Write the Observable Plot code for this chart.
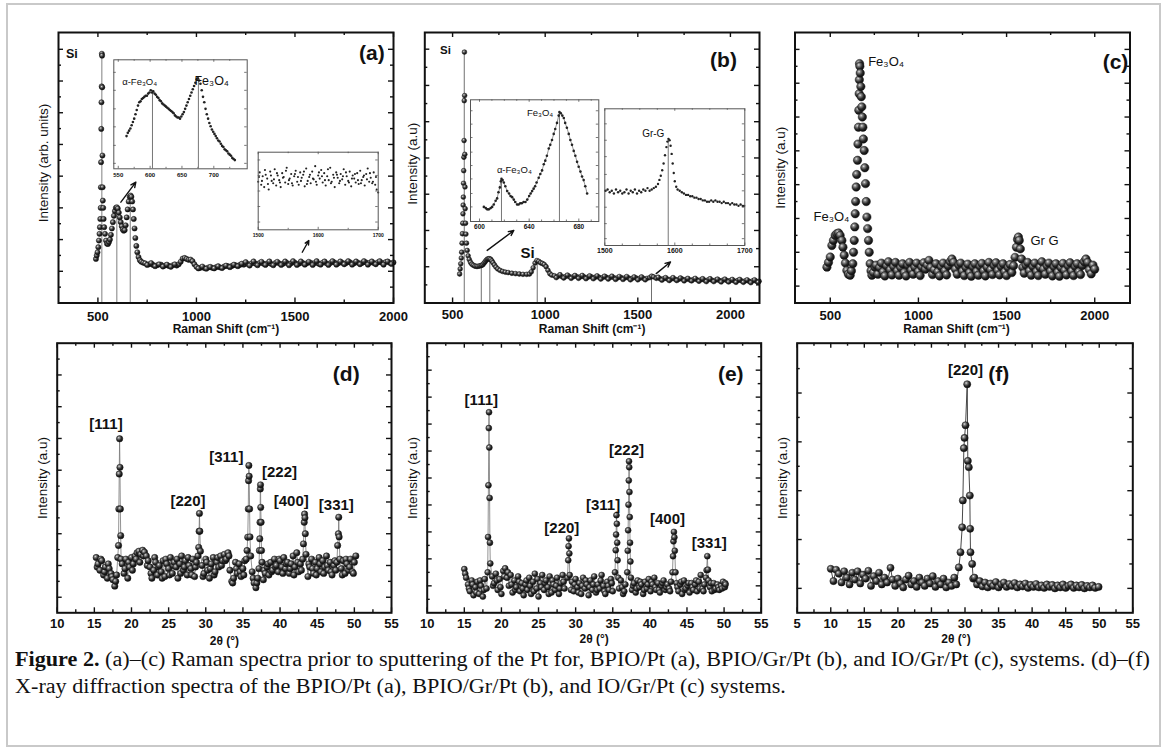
<!DOCTYPE html>
<html><head><meta charset="utf-8">
<script src="https://cdn.jsdelivr.net/npm/d3@7"></script>
<script src="https://cdn.jsdelivr.net/npm/@observablehq/plot@0.6"></script>
<style>
html,body{margin:0;padding:0;background:#fff;}
#fig{position:relative;width:1165px;height:749px;overflow:hidden;background:#fff;}
#border{position:absolute;left:6px;top:3px;width:1151px;height:740px;border:2px solid #c9c9c9;}
.cap{position:absolute;left:15px;white-space:nowrap;font-family:"Liberation Serif","DejaVu Serif",serif;font-size:20px;line-height:20px;color:#111;transform-origin:0 0;}
</style></head><body>
<div id="fig"><div id="border"></div>
<svg width="0" height="0" style="position:absolute"><defs>
<radialGradient id="sph" cx="0.36" cy="0.33" r="0.68">
<stop offset="0" stop-color="#e6e6e6"/><stop offset="0.22" stop-color="#8a8a8a"/><stop offset="0.62" stop-color="#2a2a2a"/><stop offset="1" stop-color="#0a0a0a"/>
</radialGradient></defs></svg>
<div class="cap" id="cap1" style="top:649px"><b>Figure 2.</b> (a)–(c) Raman spectra prior to sputtering of the Pt for, BPIO/Pt (a), BPIO/Gr/Pt (b), and IO/Gr/Pt (c), systems. (d)–(f)</div>
<div class="cap" id="cap2" style="top:676px">X-ray diffraction spectra of the BPIO/Pt (a), BPIO/Gr/Pt (b), and IO/Gr/Pt (c) systems.</div>
</div>
<script>
// ---------------- DATA ----------------
const ramanXMajor = [500, 1000, 1500, 2000];
const ramanXMinor = [750, 1250, 1750];
const xrdXMajorDE = [10, 15, 20, 25, 30, 35, 40, 45, 50, 55];
const xrdXMinorDE = [12.5, 17.5, 22.5, 27.5, 32.5, 37.5, 42.5, 47.5, 52.5];
const xrdXMajorF = [5, 10, 15, 20, 25, 30, 35, 40, 45, 50, 55];
const xrdXMinorF = [7.5, 12.5, 17.5, 22.5, 27.5, 32.5, 37.5, 42.5, 47.5, 52.5];

// (a) BPIO/Pt Raman
const ramanA = [
[490,1.39],[494,1.50],[498,1.60],[502,1.76],[505,1.97],[508,2.18],[510,2.39],[512,2.65],[514,3.00],[515,3.65],[516,4.44],[517,5.49],[518,6.33],[519,6.83],[520,7.86],[521,7.80],[522,6.80],[523,4.65],[524,3.65],[525,3.23],[527,3.00],[529,2.65],[532,2.39],[536,2.18],[541,1.97],[546,1.87],[551,1.86],[556,1.92],[561,2.00],[566,2.15],[571,2.35],[576,2.55],[581,2.75],[586,2.90],[591,3.00],[596,3.02],[601,2.98],[606,2.85],[611,2.70],[616,2.55],[621,2.42],[626,2.32],[631,2.28],[636,2.30],[641,2.45],[646,2.70],[651,2.95],[656,3.20],[661,3.35],[666,3.39],[670,3.35],[674,3.20],[678,2.95],[682,2.65],[686,2.35],[690,2.05],[695,1.80],[700,1.60],[706,1.45],[713,1.35],[720,1.30],[730,1.27],
[740,1.25],[760,1.22],[780,1.20],[800,1.19],[820,1.21],[840,1.18],[860,1.17],[880,1.19],[900,1.18],[910,1.22],[920,1.30],[930,1.40],[940,1.42],[950,1.39],[960,1.36],[970,1.37],[980,1.32],[990,1.22],[1000,1.14],[1020,1.11],[1040,1.10],[1060,1.12],[1080,1.11],[1100,1.13],[1120,1.12],[1140,1.15],[1160,1.16],[1180,1.17],[1200,1.19],[1220,1.20],[1240,1.21],[1260,1.23],[1280,1.25],[1300,1.24],[1320,1.26],[1340,1.24],[1360,1.25],[1380,1.23],[1400,1.26],[1420,1.25],[1440,1.24],[1460,1.26],[1480,1.25],[1500,1.27],[1520,1.24],[1540,1.26],[1560,1.25],[1580,1.27],[1600,1.26],[1620,1.24],[1640,1.27],[1660,1.25],[1680,1.26],[1700,1.28],[1720,1.25],[1740,1.27],[1760,1.26],[1780,1.28],[1800,1.25],[1820,1.27],[1840,1.26],[1860,1.28],[1880,1.27],[1900,1.26],[1920,1.28],[1940,1.27],[1960,1.29],[1980,1.27],[2000,1.28],
[750,1.20],[770,1.26],[790,1.16],[810,1.22],[830,1.15],[850,1.21],[870,1.14],[890,1.22],[1010,1.09],[1030,1.15],[1050,1.08],[1070,1.14],[1090,1.09],[1110,1.16],[1130,1.10],[1150,1.18],[1170,1.13],[1190,1.21],[1210,1.16],[1230,1.24],
[1250,1.29],[1270,1.18],[1290,1.31],[1310,1.19],[1330,1.30],[1350,1.20],[1370,1.31],[1390,1.19],[1410,1.30],[1430,1.20],[1450,1.31],[1470,1.19],[1490,1.32],[1510,1.20],[1530,1.31],[1550,1.21],[1570,1.30],[1590,1.20],[1610,1.32],[1630,1.21],[1650,1.31],[1670,1.20],[1690,1.32],[1710,1.21],[1730,1.31],[1750,1.22],[1770,1.32],[1790,1.21],[1810,1.31],[1830,1.22],[1850,1.32],[1870,1.21],[1890,1.31],[1910,1.22],[1930,1.32],[1950,1.21],[1970,1.31],[1990,1.23]
];
const ramanA_peakLines = [[520,7.86],[596,3.02],[664,3.39]];
const ramanA_arrows = [[616.5,3.18,692.5,3.81],[1537,1.60,1570.5,1.97]];
const ramanA_si = [[368,7.86,"Si"]];
const ramanA_tag = [[1890,7.86,"(a)"]];
const yA_major = [1,2,3,4,5,6,7,8];
const yA_minor = [0.5,1.5,2.5,3.5,4.5,5.5,6.5,7.5];

const insetA1 = [[563,0.30],[565,0.33],[567,0.35],[569,0.37],[571,0.40],[573,0.43],[575,0.46],[577,0.50],[579,0.54],[581,0.58],[583,0.61],[585,0.62],[587,0.64],[589,0.65],[591,0.66],[593,0.67],[595,0.67],[597,0.69],[599,0.70],[601,0.72],[603,0.70],[605,0.71],[607,0.69],[609,0.68],[611,0.66],[613,0.65],[615,0.63],[617,0.62],[619,0.60],[621,0.59],[623,0.58],[625,0.57],[627,0.56],[629,0.55],[631,0.54],[633,0.53],[635,0.52],[637,0.51],[639,0.49],[641,0.48],[643,0.47],[645,0.47],[647,0.46],[649,0.48],[651,0.50],[653,0.52],[655,0.55],[657,0.58],[659,0.61],[661,0.64],[663,0.67],[665,0.70],[667,0.73],[669,0.76],[671,0.79],[673,0.82],[675,0.83],[677,0.81],[679,0.78],[681,0.72],[683,0.66],[685,0.61],[687,0.55],[689,0.50],[691,0.46],[693,0.42],[695,0.39],[697,0.36],[699,0.34],[701,0.32],[703,0.30],[705,0.28],[707,0.26],[709,0.25],[711,0.23],[713,0.21],[715,0.20],[717,0.18],[719,0.17],[721,0.16],[723,0.14],[725,0.13],[727,0.12],[729,0.10],[731,0.09],[733,0.08]];
const insetA1_lines = [[603.7,0.72],[675.8,0.83]];
const insetA1_labels = [[556.2,0.795,"α-Fe₃O₄",9.5],[669.6,0.81,"Fe₃O₄",12.5]];
const insetA1_xLabels = [550,600,650,700];
const insetA1_xMinor = [575,625,675,725];
const insetA1_yTicks = [0.05,0.215,0.385,0.55,0.72,0.885];

const insetA2 = [[1500,0.62],[1502.5,0.74],[1505,0.58],[1507.5,0.69],[1510,0.55],[1512.5,0.71],[1515,0.66],[1517.5,0.52],[1520,0.75],[1522.5,0.63],[1525,0.60],[1527.5,0.78],[1530,0.57],[1532.5,0.70],[1535,0.64],[1537.5,0.55],[1540,0.73],[1542.5,0.68],[1545,0.61],[1547.5,0.80],[1550,0.59],[1552.5,0.66],[1555,0.72],[1557.5,0.57],[1560,0.69],[1562.5,0.76],[1565,0.62],[1567.5,0.58],[1570,0.74],[1572.5,0.67],[1575,0.71],[1577.5,0.56],[1580,0.79],[1582.5,0.63],[1585,0.68],[1587.5,0.60],[1590,0.75],[1592.5,0.65],[1595,0.82],[1597.5,0.58],[1600,0.70],[1602.5,0.66],[1605,0.77],[1607.5,0.61],[1610,0.73],[1612.5,0.57],[1615,0.69],[1617.5,0.64],[1620,0.80],[1622.5,0.62],[1625,0.71],[1627.5,0.55],[1630,0.74],[1632.5,0.67],[1635,0.60],[1637.5,0.72],[1640,0.65],[1642.5,0.78],[1645,0.58],[1647.5,0.69],[1650,0.63],[1652.5,0.75],[1655,0.56],[1657.5,0.70],[1660,0.66],[1662.5,0.61],[1665,0.73],[1667.5,0.59],[1670,0.76],[1672.5,0.64],[1675,0.68],[1677.5,0.57],[1680,0.72],[1682.5,0.79],[1685,0.62],[1687.5,0.67],[1690,0.60],[1692.5,0.74],[1695,0.58],[1697.5,0.52],[1700,0.48],
[1501.25,0.68],[1506.25,0.63],[1511.25,0.77],[1516.25,0.59],[1521.25,0.70],[1526.25,0.65],[1531.25,0.73],[1536.25,0.61],[1541.25,0.67],[1546.25,0.76],[1551.25,0.64],[1556.25,0.60],[1561.25,0.72],[1566.25,0.68],[1571.25,0.63],[1576.25,0.75],[1581.25,0.59],[1586.25,0.71],[1591.25,0.66],[1596.25,0.62],[1601.25,0.74],[1606.25,0.69],[1611.25,0.64],[1616.25,0.78],[1621.25,0.60],[1626.25,0.67],[1631.25,0.71],[1636.25,0.63],[1641.25,0.69],[1646.25,0.74],[1651.25,0.61],[1656.25,0.66],[1661.25,0.72],[1666.25,0.64],[1671.25,0.60],[1676.25,0.70],[1681.25,0.65],[1686.25,0.73],[1691.25,0.62],[1696.25,0.68]];
const insetA2_xLabels = [1500,1600,1700];
const insetA2_xMinor = [1550,1650];
const insetA2_yTicks = [0.1,0.3,0.5,0.7,0.9];

// (b) BPIO/Gr/Pt Raman
const ramanB = [
[538,0.80],[541,0.94],[544,1.08],[547,1.24],[549,1.40],[551,1.65],[553,1.91],[555,2.20],[556,2.46],[557,2.70],[558,2.92],[559,3.30],[560,3.65],[561,4.02],[562,4.48],[563,5.58],[564,6.92],[565,5.72],[566,4.10],[567,3.20],[568,2.60],[570,2.20],[572,1.90],[575,1.65],[579,1.45],[584,1.30],[590,1.20],[597,1.12],[604,1.07],[612,1.04],[620,1.02],[628,1.01],[636,1.01],[644,1.02],[652,1.03],[658,1.04],[664,1.06],[670,1.10],[676,1.14],[682,1.18],[688,1.21],[694,1.22],[700,1.22],[706,1.20],[712,1.16],[718,1.11],[726,1.05],[734,0.99],[744,0.94],[756,0.90],[770,0.87],[785,0.85],[800,0.84],[820,0.82],[840,0.81],[860,0.80],[880,0.79],[900,0.79],[915,0.80],[925,0.86],[935,0.97],[945,1.10],[955,1.17],[965,1.15],[975,1.11],[985,1.09],[995,1.06],[1005,1.00],[1015,0.90],[1025,0.81],[1035,0.77],[1050,0.75],
[1070,0.74],[1090,0.73],[1110,0.73],[1130,0.73],[1150,0.72],[1170,0.73],[1190,0.72],[1210,0.72],[1230,0.71],[1250,0.72],[1270,0.71],[1290,0.71],[1310,0.70],[1330,0.71],[1350,0.70],[1370,0.70],[1390,0.69],[1410,0.70],[1430,0.69],[1450,0.69],[1470,0.68],[1490,0.69],[1510,0.68],[1530,0.68],[1550,0.68],[1565,0.70],[1575,0.74],[1585,0.72],[1600,0.68],[1620,0.67],[1640,0.67],[1660,0.66],[1680,0.66],[1700,0.66],[1720,0.65],[1740,0.66],[1760,0.65],[1780,0.64],[1800,0.65],[1820,0.64],[1840,0.64],[1860,0.63],[1880,0.64],[1900,0.63],[1920,0.63],[1940,0.62],[1960,0.63],[1980,0.62],[2000,0.62],[2020,0.61],[2040,0.62],[2060,0.61],[2080,0.61],[2100,0.60],[2120,0.61],[2140,0.60],[2155,0.60],
[1060,0.70],[1080,0.78],[1100,0.69],[1120,0.77],[1140,0.68],[1160,0.76],[1180,0.68],[1200,0.76],[1220,0.67],[1240,0.75],[1260,0.67],[1280,0.75],[1300,0.66],[1320,0.74],[1340,0.66],[1360,0.74],[1380,0.65],[1400,0.73],[1420,0.65],[1440,0.73],[1460,0.64],[1480,0.72],[1500,0.64],[1520,0.72],[1540,0.64],[1610,0.71],[1630,0.63],[1650,0.70],[1670,0.62],[1690,0.70],[1710,0.62],[1730,0.69],[1750,0.61],[1770,0.68],[1790,0.61],[1810,0.68],[1830,0.60],[1850,0.67],[1870,0.59],[1890,0.67],[1910,0.59],[1930,0.66],[1950,0.58],[1970,0.66],[1990,0.58],[2010,0.65],[2030,0.57],[2050,0.65],[2070,0.57],[2090,0.64],[2110,0.56],[2130,0.64],[2150,0.57]
];
const ramanB_peakLines = [[563,6.92],[655,1.03],[701,1.22],[957,1.17],[1574,0.74]];
const ramanB_arrows = [[686.9,1.45,830.5,2.0],[1599.3,0.81,1676.5,1.13]];
const ramanB_siTop = [[461.8,6.96,"Si"]];
const ramanB_si2 = [[904.5,1.36,"Si"]];
const ramanB_tag = [[1962.7,6.69,"(b)"]];
const yB_major = [1,2,3,4,5,6,7];
const yB_minor = [0.5,1.5,2.5,3.5,4.5,5.5,6.5];

const insetB1 = [[603.5,0.12],[605,0.11],[606.2,0.10],[607.5,0.10],[609,0.11],[610.2,0.12],[611.5,0.14],[613,0.17],[614.2,0.19],[615.3,0.24],[616.4,0.28],[617.2,0.33],[617.7,0.35],[618.6,0.34],[619.6,0.32],[620.8,0.29],[622.3,0.25],[623.8,0.23],[625,0.21],[626.3,0.20],[627.6,0.18],[628.8,0.16],[630.3,0.14],[631.5,0.14],[632.8,0.15],[634,0.15],[635.5,0.16],[637,0.16],[638.5,0.18],[640,0.21],[641.2,0.23],[642.4,0.25],[643.6,0.27],[644.8,0.29],[646,0.32],[647.7,0.36],[649,0.39],[650.4,0.42],[651.8,0.47],[653,0.50],[654.3,0.54],[655.8,0.60],[657,0.63],[658.4,0.67],[659.8,0.72],[661,0.76],[662.4,0.81],[663.8,0.87],[664.4,0.90],[665.5,0.89],[666.7,0.87],[667.9,0.85],[669,0.81],[670.4,0.77],[671.9,0.72],[673.2,0.67],[674.5,0.63],[675.9,0.58],[677.2,0.54],[678.6,0.49],[679.9,0.45],[681.3,0.41],[682.6,0.37],[683.9,0.34],[685.2,0.29],[686.7,0.23]];
const insetB1_lines = [[617.7,0.35],[664.4,0.90]];
const insetB1_labels = [[614.0,0.42,"α-Fe₃O₄"],[638.2,0.89,"Fe₃O₄"]];
const insetB1_xLabels = [600,640,680];
const insetB1_xMinor = [610,620,630,650,660,670,690];
const insetB1_yTicks = [0.12,0.23,0.35,0.46,0.57,0.69,0.80,0.91];

const insetB2 = [[1501,0.40],[1504,0.41],[1507,0.39],[1510,0.40],[1513,0.38],[1516,0.41],[1519,0.39],[1522,0.40],[1525,0.38],[1528,0.39],[1531,0.41],[1534,0.38],[1537,0.40],[1540,0.39],[1543,0.41],[1546,0.38],[1549,0.40],[1552,0.39],[1555,0.41],[1558,0.40],[1561,0.42],[1564,0.40],[1567,0.41],[1570,0.42],[1573,0.43],[1576,0.45],[1578,0.48],[1580,0.51],[1582,0.55],[1584,0.60],[1586,0.66],[1588,0.72],[1589.5,0.76],[1591,0.78],[1592.5,0.77],[1594,0.73],[1595.5,0.67],[1597,0.60],[1598.5,0.53],[1600,0.47],[1602,0.43],[1604,0.41],[1607,0.40],[1610,0.39],[1613,0.38],[1616,0.37],[1619,0.37],[1622,0.36],[1625,0.36],[1628,0.35],[1631,0.35],[1634,0.34],[1637,0.34],[1640,0.33],[1643,0.33],[1646,0.32],[1649,0.32],[1652,0.33],[1655,0.32],[1658,0.33],[1661,0.32],[1664,0.32],[1667,0.31],[1670,0.32],[1673,0.31],[1676,0.31],[1679,0.30],[1682,0.31],[1685,0.30],[1688,0.30],[1691,0.29],[1694,0.30],[1697,0.29],[1699,0.29]];
const insetB2_lines = [[1590.6,0.78]];
const insetB2_labels = [[1553.4,0.817,"Gr-G"]];
const insetB2_xLabels = [1500,1600,1700];
const insetB2_xMinor = [1525,1550,1575,1625,1650,1675];
const insetB2_yTicks = [0.05,0.16,0.28,0.40,0.52,0.65,0.77,0.89];

// (c) IO/Gr/Pt Raman
const ramanC = [
[481,1.56],[490,1.70],[500,1.86],[509,2.20],[518,2.35],[528,2.50],[537,2.55],[547,2.57],[556,2.50],[566,2.35],[572,2.15],[579,1.91],[586,1.68],[594,1.46],[603,1.35],[613,1.32],[620,1.45],[628,1.66],[632,2.00],[636,2.35],[639,2.75],[641.5,3.14],[644,3.50],[647,3.93],[650,4.30],[654.6,4.72],[657,5.20],[660,5.70],[662,6.20],[664,6.69],[665,7.10],[666,7.58],[668,7.50],[670,7.30],[673.5,6.90],[676,6.60],[679,6.30],[682,6.00],[685,5.70],[688,5.35],[692.4,5.01],[696,4.50],[700,4.03],[704,3.50],[707.7,3.04],[712,2.70],[717,2.35],[721,2.00],[726,1.66],[731,1.45],[736,1.32],[745,1.40],[754.7,1.56],
[760,1.62],[770,1.35],[780,1.55],[790,1.68],[800,1.42],[810,1.30],[820,1.60],[830,1.72],[840,1.48],[850,1.33],[860,1.58],[870,1.70],[880,1.45],[890,1.32],[900,1.55],[910,1.66],[920,1.40],[930,1.30],[940,1.62],[950,1.70],[960,1.47],[970,1.35],[980,1.56],[990,1.68],[1000,1.43],[1010,1.31],[1020,1.57],[1030,1.69],[1040,1.50],[1050,1.62],[1060,1.76],[1070,1.55],[1080,1.34],[1090,1.48],[1100,1.66],[1110,1.42],[1120,1.30],[1130,1.58],[1140,1.68],[1150,1.45],[1160,1.33],[1170,1.60],[1180,1.72],[1190,1.80],[1200,1.70],[1210,1.50],[1220,1.35],[1230,1.62],[1240,1.68],[1250,1.44],[1260,1.31],[1270,1.55],[1280,1.65],[1290,1.40],[1300,1.29],[1310,1.57],[1320,1.66],[1330,1.43],[1340,1.32],[1350,1.59],[1360,1.67],[1370,1.45],[1380,1.30],[1390,1.56],[1400,1.70],[1410,1.48],[1420,1.34],[1430,1.61],[1440,1.69],[1450,1.46],[1460,1.33],[1470,1.58],[1480,1.66],[1490,1.42],[1500,1.31],[1510,1.55],[1520,1.64],[1530,1.40],[1540,1.60],[1548,1.85],[1556,2.15],[1562,2.38],[1567,2.45],[1572,2.35],[1578,2.10],[1585,1.80],[1592,1.55],[1600,1.38],[1610,1.62],[1620,1.70],[1630,1.45],[1640,1.32],[1650,1.58],[1660,1.68],[1670,1.43],[1680,1.31],[1690,1.56],[1700,1.72],[1710,1.50],[1720,1.35],[1730,1.60],[1740,1.68],[1750,1.44],[1760,1.30],[1770,1.57],[1780,1.66],[1790,1.41],[1800,1.29],[1810,1.55],[1820,1.67],[1830,1.46],[1840,1.33],[1850,1.60],[1860,1.69],[1870,1.44],[1880,1.31],[1890,1.58],[1900,1.66],[1910,1.42],[1920,1.34],[1930,1.61],[1940,1.72],[1950,1.80],[1960,1.70],[1970,1.48],[1980,1.36],[1990,1.62],[2000,1.50]
];
const ramanC_labels = [[715,7.62,"Fe₃O₄"],[405,3.04,"Fe₃O₄"],[1635,2.35,"Gr G"]];
const ramanC_tag = [[2117.7,7.62,"(c)"]];
const yC_major = [1,2,3,4,5,6,7,8];
const yC_minor = [1.5,2.5,3.5,4.5,5.5,6.5,7.5];

// (d) BPIO/Pt XRD
const xrdD_base = [[15.25,2.25],[15.5,2.05],[15.75,1.85],[16,2.15],[16.25,1.7],[16.5,1.95],[16.75,1.6],[17,1.9],[17.25,1.75],[17.5,1.55],[17.75,1.35],[18,1.7],[18.75,2.05],[19,1.75],[19.25,2.2],[19.5,1.6],[19.75,1.95],[20,2.25],[20.25,2.05],[20.5,2.3],[20.75,2.4],[21,2.45],[21.25,2.35],[21.5,2.48],[21.75,2.42],[22,2.3],[22.25,2.15],[22.5,1.95],[22.75,1.6],[23,1.85],[23.25,2.1],[23.5,1.7],[23.75,2],[24,1.8],[24.25,2.15],[24.5,1.65],[24.75,2.05],[25,1.9],[25.25,2.25],[25.5,1.75],[25.75,2.1],[26,1.95],[26.25,1.6],[26.5,2.05],[26.75,2.3],[27,1.85],[27.25,2.15],[27.5,1.7],[27.75,2],[28,1.9],[28.25,2.2],[28.5,1.65],[28.75,2.1],[29.5,2],[29.75,1.75],[30,2.2],[30.25,1.85],[30.5,1.6],[30.75,2.05],[31,2.25],[31.25,1.8],[31.5,2.1],[31.75,1.95],[32,2.3],[32.25,2.15],[32.5,2.35],[32.75,2.2],[33,2.4],[33.25,1.85],[33.5,1.5],[33.75,1.6],[34,2.1],[34.25,1.75],[34.5,2.05],[34.75,1.65],[35,1.9],[35.25,2.15],[36.25,1.8],[36.5,1.45],[36.75,1.3],[37,1.6],[37.75,1.55],[38,1.75],[38.25,1.95],[38.5,1.7],[38.75,2.1],[39,1.85],[39.25,2.2],[39.5,2],[39.75,1.8],[40,2.15],[40.25,1.95],[40.5,2.25],[40.75,1.9],[41,2.1],[41.25,1.75],[41.5,2.05],[41.75,2.3],[42,1.95],[42.25,2.4],[42.5,1.8],[42.75,2.05],[43.75,1.65],[44,1.95],[44.25,2.2],[44.5,1.75],[44.75,2.1],[45,1.9],[45.25,2.25],[45.5,1.8],[45.75,2.15],[46,1.95],[46.25,2.3],[46.5,1.85],[46.75,2.1],[47,1.7],[47.25,2],[47.5,1.85],[48.25,1.9],[48.5,2.15],[48.75,1.75],[49,2.05],[49.25,1.85],[49.5,2.2],[49.75,1.8],[50,2.1],[50.2,2.3],
[15.375,1.95],[15.875,2.2],[16.375,1.8],[16.875,2.05],[17.375,1.65],[17.875,1.5],[19.125,1.9],[19.625,2.1],[20.125,1.85],[20.625,2.2],[21.125,2.1],[21.625,2.3],[22.125,2.0],[22.625,1.75],[23.125,2.25],[23.625,1.95],[24.125,1.6],[24.625,2.2],[25.125,1.7],[25.625,2.0],[26.125,2.2],[26.625,1.75],[27.125,1.95],[27.625,2.25],[28.125,1.7],[28.625,1.95],[29.625,1.65],[30.125,2.1],[30.625,1.9],[31.125,1.7],[31.625,2.25],[32.125,2.0],[32.625,2.15],[33.125,2.3],[33.625,1.45],[34.125,1.9],[34.625,1.8],[35.125,1.7],[36.375,1.6],[36.875,1.45],[37.875,1.85],[38.375,2.05],[38.875,1.8],[39.375,1.95],[39.875,2.2],[40.375,1.75],[40.875,2.05],[41.375,1.9],[41.875,1.7],[42.375,2.1],[42.875,1.85],[43.875,2.05],[44.375,1.9],[44.875,1.7],[45.375,2.05],[45.875,1.75],[46.375,2.0],[46.875,1.8],[47.375,2.15],[48.375,1.7],[48.875,2.2],[49.375,1.95],[49.875,1.75]];
const xrdD_peaks = [[18.15,2.25],[18.25,2.63],[18.3,3.78],[18.35,4.88],[18.4,5.99],[18.45,5.09],[18.5,3.78],[18.55,2.94],[18.6,2.2],
[28.95,2.3],[29.05,2.57],[29.1,3.08],[29.15,3.64],[29.2,3.08],[29.28,2.45],
[35.45,2.2],[35.55,2.47],[35.65,2.89],[35.72,3.78],[35.76,4.67],[35.8,5.15],[35.84,4.81],[35.9,3.78],[35.95,2.9],[36.05,2.3],
[37.15,1.9],[37.22,2.47],[37.27,2.84],[37.3,3.36],[37.34,4.41],[37.37,4.54],[37.4,3.83],[37.45,3.36],[37.5,2.47],[37.58,2.1],
[43.05,2.2],[43.15,2.68],[43.25,3.36],[43.3,3.62],[43.35,3.5],[43.4,3.0],[43.5,2.35],
[47.65,2.1],[47.75,2.63],[47.85,3.0],[47.9,3.52],[47.95,2.9],[48.05,2.2]];
const xrdD_labels = [[16.57,6.46,"[111]"],[27.61,4.04,"[220]"],[32.76,5.41,"[311]"],[39.92,4.93,"[222]"],[41.51,4.04,"[400]"],[47.57,3.89,"[331]"]];
const xrdD_tag = [[48.91,8.03,"(d)"]];
const yD_major = [1,2,3,4,5,6,7,8];
const yD_minor = [1.5,2.5,3.5,4.5,5.5,6.5,7.5,8.5];

// (e) BPIO/Gr/Pt XRD
const xrdE_base = [[15,1.62],[15.25,1.3],[15.5,1.05],[15.75,0.8],[16,1.2],[16.25,0.65],[16.5,0.95],[16.75,1.15],[17,0.7],[17.25,1],[17.5,0.6],[17.75,1.25],[18,0.9],[18.75,1.35],[19,1.1],[19.25,1.45],[19.5,0.85],[19.75,1.25],[20,0.7],[20.25,1.55],[20.5,1.65],[20.75,1.3],[21,1],[21.25,1.4],[21.5,0.75],[21.75,1.2],[22,0.95],[22.25,1.35],[22.5,0.8],[22.75,1.1],[23,0.65],[23.25,1.05],[23.5,0.85],[23.75,1.3],[24,0.7],[24.25,1.15],[24.5,1.45],[24.75,0.9],[25,0.6],[25.25,1.1],[25.5,1.4],[25.75,0.85],[26,1.2],[26.25,0.95],[26.5,1.35],[26.75,0.75],[27,1.05],[27.25,0.85],[27.5,1.3],[27.75,0.7],[28,1.1],[28.25,1.4],[28.5,0.9],[29.5,1.15],[29.75,0.8],[30,1.25],[30.25,0.95],[30.5,1.1],[30.75,0.7],[31,1.3],[31.25,0.9],[31.5,1.05],[31.75,0.65],[32,1.2],[32.25,0.85],[32.5,1.35],[32.75,0.75],[33,1.05],[33.25,0.9],[33.5,1.4],[33.75,1],[34,0.7],[34.25,1.15],[34.5,0.85],[34.75,1.25],[35,0.8],[35.85,0.9],[36.1,1.2],[36.4,0.7],[36.7,1.05],[37.6,0.85],[37.85,1.1],[38.1,0.75],[38.35,1.2],[38.6,0.95],[38.85,1.05],[39.1,0.7],[39.35,1.15],[39.6,0.9],[39.85,1.25],[40.1,0.8],[40.35,1.05],[40.6,1.3],[40.85,0.85],[41.1,1.1],[41.35,0.75],[41.6,1],[41.85,1.2],[42.1,0.85],[42.35,1.05],[42.6,0.9],[42.85,1.15],[43.6,1.1],[43.85,0.8],[44.1,1.05],[44.35,0.7],[44.6,1.2],[44.85,0.9],[45.1,1],[45.35,0.75],[45.6,1.1],[45.85,0.85],[46.1,1.05],[46.35,0.8],[46.6,1.15],[46.85,1.4],[47.1,0.9],[47.35,1.05],[48.1,0.95],[48.35,0.8],[48.6,1.1],[48.85,0.9],[49.1,1.05],[49.35,0.85],[49.6,1],[49.85,1.15],[50.1,0.95],[50.2,1.05],
[15.125,1.45],[15.625,0.9],[16.125,1.05],[16.625,0.75],[17.125,1.2],[17.625,0.85],[18.875,1.0],[19.375,1.2],[19.875,0.95],[20.375,1.35],[20.875,1.5],[21.375,1.05],[21.875,0.85],[22.375,1.15],[22.875,0.9],[23.375,1.2],[23.875,1.0],[24.375,0.8],[24.875,1.25],[25.375,0.95],[25.875,1.1],[26.375,0.7],[26.875,1.2],[27.375,1.0],[27.875,0.9],[28.375,1.15],[29.375,0.85],[29.875,1.05],[30.375,0.75],[30.875,1.0],[31.375,1.2],[31.875,0.95],[32.375,1.05],[32.875,0.85],[33.375,1.2],[33.875,0.8],[34.375,1.0],[34.875,1.1],[36.25,0.95],[36.55,0.8],[37.725,1.0],[38.225,0.9],[38.725,1.15],[39.225,0.85],[39.725,1.05],[40.225,1.15],[40.725,0.95],[41.225,0.85],[41.725,1.1],[42.225,0.95],[42.725,0.8],[43.725,0.95],[44.225,1.15],[44.725,0.85],[45.225,1.1],[45.725,0.95],[46.225,1.2],[46.725,0.9],[47.225,0.8],[48.225,1.1],[48.725,0.85],[49.225,0.95],[49.725,0.9],[50.15,1.1]];
const xrdE_peaks = [[18.15,1.5],[18.2,2.81],[18.25,4.73],[18.3,6.85],[18.33,7.44],[18.37,6.13],[18.41,4.26],[18.45,2.6],[18.5,1.83],
[28.9,1.3],[29,1.95],[29.05,2.47],[29.1,2.76],[29.15,2.2],[29.2,1.4],
[35.3,1.5],[35.4,2.32],[35.45,2.9],[35.5,3.62],[35.55,3.3],[35.6,2.6],[35.65,1.95],[35.75,1.3],
[36.95,1.5],[37.02,2.3],[37.07,3.06],[37.12,4.01],[37.16,4.91],[37.19,5.62],[37.22,5.4],[37.25,4.48],[37.29,3.55],[37.33,2.6],[37.38,1.9],[37.45,1.3],
[43.05,1.5],[43.12,2.1],[43.18,2.65],[43.24,3],[43.3,2.8],[43.36,2.3],[43.45,1.5],
[47.55,1.3],[47.65,1.58],[47.74,2.1],[47.82,1.6],[47.9,1.2]];
const xrdE_labels = [[17.29,7.87,"[111]"],[28.14,3.12,"[220]"],[33.69,3.98,"[311]"],[36.85,6.02,"[222]"],[42.38,3.49,"[400]"],[48.0,2.58,"[331]"]];
const xrdE_tag = [[50.9,8.86,"(e)"]];
const yE_major = [1,2,3,4,5,6,7,8,9];
const yE_minor = [0.5,1.5,2.5,3.5,4.5,5.5,6.5,7.5,8.5,9.5];

// (f) IO/Gr/Pt XRD
const xrdF_base = [[10,1.4],[10.4,1.15],[10.8,1.38],[11.2,1.3],[11.6,1.12],[12,1.35],[12.4,1.22],[12.8,1.08],[13.2,1.32],[13.6,1.18],[14,1.35],[14.4,1.1],[14.8,1.28],[15.2,1.2],[15.6,1.36],[16,1.05],[16.4,1.25],[16.8,1.15],[17.2,1.32],[17.6,1.08],[18,1.22],[18.4,1.12],[18.9,1.42],[19.2,1.18],[19.6,1.05],[20,1.2],[20.4,1.1],[20.8,1.02],[21.2,1.18],[21.6,1.26],[22,1.08],[22.4,1.15],[22.8,1.03],[23.2,1.22],[23.6,1.12],[24,1.05],[24.4,1.2],[24.8,1.1],[25.2,1.25],[25.6,1.03],[26,1.15],[26.4,1.08],[26.8,1.2],[27.2,1.02],[27.6,1.12],[28,1.05],[28.4,1.22],[28.7,1.08],[31.4,1.22],[31.8,1.08],[32.2,1.15],[32.6,1.04],[33,1.12],[33.4,1.02],[33.8,1.1],[34.2,1.05],[34.6,1.13],[35,1.02],[35.4,1.08],[35.8,1.12],[36.2,1.03],[36.6,1.09],[37,1.05],[37.4,1.11],[37.8,1.02],[38.2,1.08],[38.6,1.04],[39,1.1],[39.4,1.01],[39.8,1.07],[40.2,1.03],[40.6,1.09],[41,1.02],[41.4,1.06],[41.8,1.01],[42.2,1.08],[42.6,1.03],[43,1.07],[43.4,1],[43.8,1.06],[44.2,1.02],[44.6,1.08],[45,1.01],[45.4,1.05],[45.8,1.08],[46.2,1.01],[46.6,1.06],[47,1.02],[47.4,1.07],[47.8,1],[48.2,1.05],[48.6,1.02],[49,1.06],[49.4,1.01],[49.9,1.03]];
const xrdF_peaks = [[29.08,1.43],[29.33,1.74],[29.58,2.25],[29.68,2.8],[29.83,3.87],[29.93,4.08],[30.08,4.34],[30.33,5.18],[30.42,3.61],[30.57,3.48],[30.72,2.9],[30.77,2.22],[30.82,1.74],[31.07,1.5],[31.22,1.2]];
const xrdF_labels = [[30.07,5.46,"[220]"]];
const xrdF_tag = [[35.04,5.39,"(f)"]];
const yF_major = [1,2,3,4,5];
const yF_minor = [1.5,2.5,3.5,4.5,5.5];

// ---------------- DRAWING ----------------
const W = 1165, H = 749;
const SANS = "'Liberation Sans', Arial, Helvetica, sans-serif";
const INK = "#111";
const fig = document.getElementById("fig");

function panel(frame, xd, yd, marks) {
  const [l, t, r, b] = frame;
  const svg = Plot.plot({
    width: W, height: H,
    marginLeft: l, marginTop: t, marginRight: W - r, marginBottom: H - b,
    x: {domain: xd, axis: null}, y: {domain: yd, axis: null},
    style: {position: "absolute", left: "0px", top: "0px", background: "transparent", overflow: "visible", fontFamily: SANS, maxWidth: "none"},
    marks
  });
  fig.appendChild(svg);
  return svg;
}
function frameTicks(frame, xMaj, xMin, yMaj, yMin, o = {}) {
  const {maj = 5, min = 3, sw = 1.4, stroke = INK} = o;
  const [l, t, r, b] = frame, pw = r - l, ph = b - t;
  const s = {stroke, strokeWidth: sw};
  const out = [];
  [[xMaj, maj], [xMin, min]].forEach(([arr, len]) => {
    out.push(Plot.tickX(arr, {x: d => d, insetTop: ph - len, ...s}));
    out.push(Plot.tickX(arr, {x: d => d, insetBottom: ph - len, ...s}));
  });
  [[yMaj, maj], [yMin, min]].forEach(([arr, len]) => {
    out.push(Plot.tickY(arr, {y: d => d, insetRight: pw - len, ...s}));
    out.push(Plot.tickY(arr, {y: d => d, insetLeft: pw - len, ...s}));
  });
  return out;
}
const mid = {textAnchor: "middle", lineAnchor: "middle"};
const tickLabels = (vals, dy, size = 13) => Plot.text(vals, {x: d => d, frameAnchor: "bottom", dy, ...mid, text: d => String(d), fontSize: size, fontWeight: "bold", fill: INK});
const xTitle = (str, dy, dx = 0) => Plot.text([str], {frameAnchor: "bottom", dy, dx, ...mid, text: d => d, fontSize: 12, fontWeight: "bold", fill: INK});
const yTitle = (str, dx, dy = 0) => Plot.text([str], {frameAnchor: "left", dx, dy, ...mid, rotate: -90, text: d => d, fontSize: 13.5, fill: INK});
const labels = (arr, o) => Plot.text(arr, {x: d => d[0], y: d => d[1], text: d => d[2], fill: INK, ...o});
const spheres = (data, r) => Plot.dot(data, {x: d => d[0], y: d => d[1], r, fill: "url(#sph)", stroke: "#151515", strokeWidth: 0.5});
const peakRules = (arr, y0, stroke = "#808080") => Plot.ruleX(arr, {x: d => d[0], y1: () => y0, y2: d => d[1], stroke, strokeWidth: 1});
const arrows = (arr) => Plot.arrow(arr, {x1: d => d[0], y1: d => d[1], x2: d => d[2], y2: d => d[3], stroke: INK, strokeWidth: 1.4, headLength: 6, headAngle: 50});
const byX = (a, b) => a[0] - b[0];

function inset(frame, xd, xLabels, xMinor, yTicks, labelDy, labelSize, marks) {
  return panel(frame, xd, [0, 1], [
    Plot.frame({fill: "white", stroke: "none"}),
    ...frameTicks(frame, xLabels, xMinor, yTicks, [], {maj: 2.5, min: 1.5, sw: 0.8, stroke: "#555"}),
    ...marks,
    Plot.frame({stroke: "#555", strokeWidth: 1}),
    tickLabels(xLabels, labelDy, labelSize)
  ]);
}

// (a)
const frameA = [58, 32, 393, 302.5];
panel(frameA, [300, 2000], [0, 8.53], [
  ...frameTicks(frameA, ramanXMajor, ramanXMinor, yA_major, yA_minor),
  peakRules(ramanA_peakLines, 0),
  spheres(ramanA, 2.6),
  Plot.frame({stroke: INK, strokeWidth: 2}),
  tickLabels(ramanXMajor, 13.5),
  xTitle("Raman Shift (cm⁻¹)", 26),
  yTitle("Intensity (arb. units)", -14.7, -4.7),
  labels(ramanA_si, {fontSize: 12.5, fontWeight: "bold"}),
  labels(ramanA_tag, {fontSize: 21, fontWeight: "bold"}),
  arrows(ramanA_arrows)
]);
inset([113.3, 59.3, 246.7, 168.3], [543, 752.4], insetA1_xLabels, insetA1_xMinor, insetA1_yTicks, 6, 6, [
  peakRules(insetA1_lines, 0, "#777"),
  Plot.dot(insetA1, {x: d => d[0], y: d => d[1], r: 1.3, fill: "#222"}),
  Plot.text(insetA1_labels, {x: d => d[0], y: d => d[1], text: d => d[2], fontSize: d => d[3], textAnchor: "start", fill: INK})
]);
inset([257.7, 151.7, 377.7, 229.3], [1500, 1700], insetA2_xLabels, insetA2_xMinor, insetA2_yTicks, 5.5, 5, [
  Plot.dot(insetA2, {x: d => d[0], y: d => d[1], r: 1.05, fill: "#222"})
]);

// (b)
const frameB = [424.3, 32, 759, 302.5];
panel(frameB, [350, 2157], [0, 7.46], [
  ...frameTicks(frameB, ramanXMajor, ramanXMinor, yB_major, yB_minor),
  peakRules(ramanB_peakLines, 0, "#707070"),
  spheres(ramanB, 2.4),
  Plot.frame({stroke: INK, strokeWidth: 2}),
  tickLabels(ramanXMajor, 11.5),
  xTitle("Raman Shift (cm⁻¹)", 26),
  yTitle("Intensity (a.u)", -12.6, -4),
  labels(ramanB_siTop, {fontSize: 11.5, fontWeight: "bold"}),
  labels(ramanB_si2, {fontSize: 15, fontWeight: "bold"}),
  labels(ramanB_tag, {fontSize: 21, fontWeight: "bold"}),
  arrows(ramanB_arrows)
]);
inset([470, 99.3, 598.3, 221], [592.75, 696.1], insetB1_xLabels, insetB1_xMinor, insetB1_yTicks, 5, 6.5, [
  peakRules(insetB1_lines, 0, "#777"),
  Plot.line(insetB1, {x: d => d[0], y: d => d[1], stroke: "#666", strokeWidth: 0.7}),
  Plot.dot(insetB1, {x: d => d[0], y: d => d[1], r: 1.3, fill: "#222"}),
  labels(insetB1_labels, {fontSize: 9.5, textAnchor: "start"})
]);
inset([604.3, 108.3, 744.3, 245], [1500, 1700], insetB2_xLabels, insetB2_xMinor, insetB2_yTicks, 5.5, 7, [
  peakRules(insetB2_lines, 0, "#777"),
  Plot.dot(insetB2, {x: d => d[0], y: d => d[1], r: 1.2, fill: "#222"}),
  labels(insetB2_labels, {fontSize: 10, textAnchor: "start"})
]);

// (c)
const frameC = [794.5, 32, 1129.5, 302.5];
panel(frameC, [300, 2200], [0.5, 8.5], [
  ...frameTicks(frameC, ramanXMajor, ramanXMinor, yC_major, yC_minor),
  spheres(ramanC, 4.2),
  Plot.frame({stroke: INK, strokeWidth: 2}),
  tickLabels(ramanXMajor, 13),
  xTitle("Raman Shift (cm⁻¹)", 26, -6),
  yTitle("Intensity (a.u)", -14.5, 0),
  labels(ramanC_labels, {fontSize: 13, textAnchor: "start"}),
  labels(ramanC_tag, {fontSize: 21, fontWeight: "bold"})
]);

// (d)
const frameD = [56.7, 342.7, 391, 612.3];
const xrdD = xrdD_base.concat(xrdD_peaks).sort(byX);
panel(frameD, [10, 55], [0.51, 9.0], [
  ...frameTicks(frameD, xrdXMajorDE, xrdXMinorDE, yD_major, yD_minor),
  Plot.line(xrdD, {x: d => d[0], y: d => d[1], stroke: "#777", strokeWidth: 0.8}),
  spheres(xrdD, 3.2),
  Plot.frame({stroke: INK, strokeWidth: 2}),
  tickLabels(xrdXMajorDE, 11),
  xTitle("2θ (°)", 28.5),
  yTitle("Intensity (a.u)", -14.7, 0),
  labels(xrdD_labels, {fontSize: 15, fontWeight: "bold"}),
  labels(xrdD_tag, {fontSize: 21, fontWeight: "bold"})
]);

// (e)
const frameE = [426.7, 342.7, 760.7, 612.3];
const xrdE = xrdE_base.concat(xrdE_peaks).sort(byX);
panel(frameE, [10, 55], [0, 10], [
  ...frameTicks(frameE, xrdXMajorDE, xrdXMinorDE, yE_major, yE_minor),
  Plot.line(xrdE, {x: d => d[0], y: d => d[1], stroke: "#777", strokeWidth: 0.8}),
  spheres(xrdE, 3.0),
  Plot.frame({stroke: INK, strokeWidth: 2}),
  tickLabels(xrdXMajorDE, 11),
  xTitle("2θ (°)", 26.5),
  yTitle("Intensity (a.u)", -15, 0),
  labels(xrdE_labels, {fontSize: 15, fontWeight: "bold"}),
  labels(xrdE_tag, {fontSize: 21, fontWeight: "bold"})
]);

// (f)
const frameF = [796.7, 342.7, 1132.3, 612.3];
const xrdF = xrdF_base.concat(xrdF_peaks).sort(byX);
panel(frameF, [5, 55], [0.5, 6.02], [
  ...frameTicks(frameF, xrdXMajorF, xrdXMinorF, yF_major, yF_minor),
  Plot.line(xrdF, {x: d => d[0], y: d => d[1], stroke: "#333", strokeWidth: 0.9}),
  spheres(xrdF, 3.6),
  Plot.frame({stroke: INK, strokeWidth: 2}),
  tickLabels(xrdXMajorF, 11),
  xTitle("2θ (°)", 26.5, -9),
  yTitle("Intensity (a.u)", -15, 0),
  labels(xrdF_labels, {fontSize: 15, fontWeight: "bold"}),
  labels(xrdF_tag, {fontSize: 21, fontWeight: "bold"})
]);

// caption fitted to the original line width
const c1 = document.getElementById("cap1"), c2 = document.getElementById("cap2");
const s = 1135 / c1.getBoundingClientRect().width;
c1.style.transform = `scaleX(${s})`;
c2.style.transform = `scaleX(${s})`;
</script>
</body></html>
